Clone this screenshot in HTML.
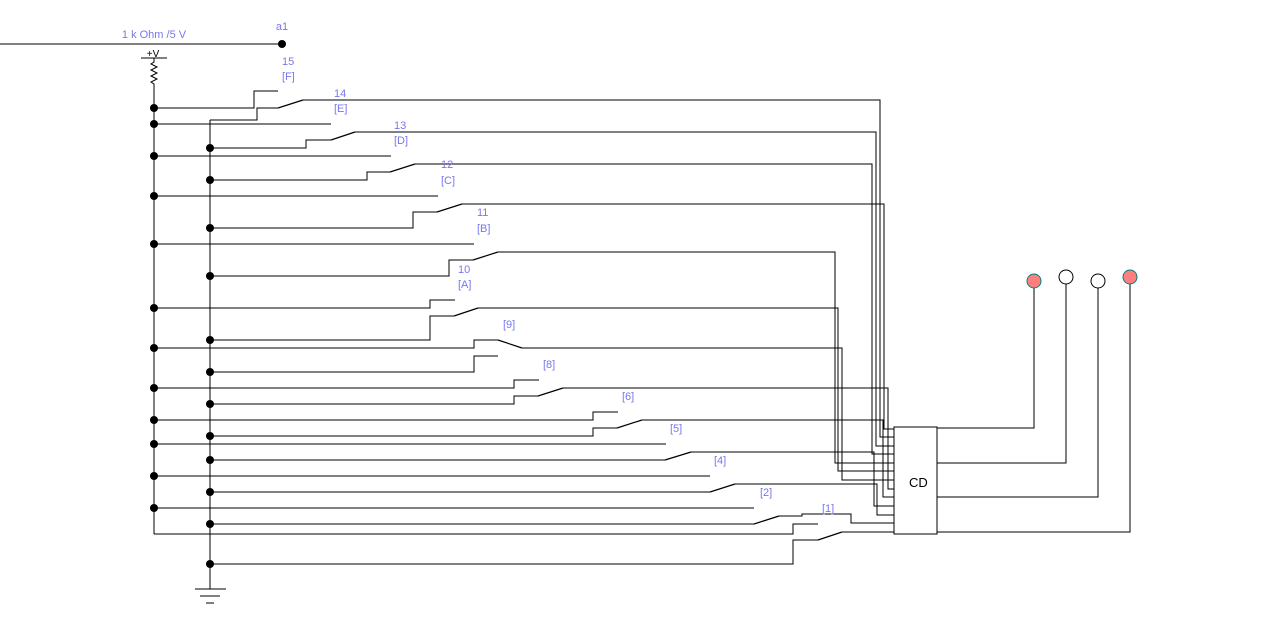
<!DOCTYPE html>
<html><head><meta charset="utf-8"><style>
html,body{margin:0;padding:0;background:#fff;}
svg{display:block;}
text{font-family:"Liberation Sans",sans-serif;font-size:11px;fill:#7777ee;}
</style></head><body>
<svg width="1268" height="624" viewBox="0 0 1268 624" xmlns="http://www.w3.org/2000/svg">
<g fill="none" stroke="#000" stroke-width="1.2" shape-rendering="crispEdges">
<!-- top -->
<line x1="0" y1="44" x2="282" y2="44"/>
<line x1="141" y1="58" x2="167" y2="58"/>
<polyline points="154,58 154,62 151,64 157,67 151,70 157,73 151,76 157,79 151,82 154,84 154,534" shape-rendering="auto" stroke-width="1"/>
<line x1="210" y1="120" x2="210" y2="589"/>
<!-- ground -->
<line x1="195" y1="589" x2="226" y2="589"/>
<line x1="200" y1="596" x2="220" y2="596"/>
<line x1="206" y1="603" x2="214" y2="603"/>
<!-- row 15 -->
<polyline points="154,108 254,108 254,91 278,91"/>
<polyline points="210,120 257,120 257,108 278,108"/>
<line x1="278" y1="108" x2="303" y2="100" shape-rendering="auto"/>
<polyline points="303,100 880,100 880,437 894,437"/>
<!-- row 14 -->
<polyline points="154,124 331,124"/>
<polyline points="210,148 306,148 306,140 331,140"/>
<line x1="331" y1="140" x2="355" y2="132" shape-rendering="auto"/>
<polyline points="355,132 876,132 876,446 894,446"/>
<!-- row 13 -->
<polyline points="154,156 391,156"/>
<polyline points="210,180 367,180 367,172 390,172"/>
<line x1="390" y1="172" x2="415" y2="164" shape-rendering="auto"/>
<polyline points="415,164 872,164 872,454 894,454"/>
<!-- row 12 -->
<polyline points="154,196 438,196"/>
<polyline points="210,228 413,228 413,212 437,212"/>
<line x1="437" y1="212" x2="462" y2="204" shape-rendering="auto"/>
<polyline points="462,204 884,204 884,429 894,429"/>
<!-- row 11 -->
<polyline points="154,244 474,244"/>
<polyline points="210,276 449,276 449,260 473,260"/>
<line x1="473" y1="260" x2="498" y2="252" shape-rendering="auto"/>
<polyline points="498,252 835,252 835,463 894,463"/>
<!-- row 10 -->
<polyline points="154,308 430,308 430,300 455,300"/>
<polyline points="210,340 430,340 430,316 454,316"/>
<line x1="454" y1="316" x2="478" y2="308" shape-rendering="auto"/>
<polyline points="478,308 838,308 838,471 894,471"/>
<!-- row 9 -->
<polyline points="154,348 474,348 474,340 498,340"/>
<polyline points="210,372 474,372 474,356 498,356"/>
<line x1="498" y1="340" x2="522" y2="348" shape-rendering="auto"/>
<polyline points="522,348 842,348 842,480 894,480"/>
<!-- row 8 -->
<polyline points="154,388 514,388 514,380 539,380"/>
<polyline points="210,404 514,404 514,396 538,396"/>
<line x1="538" y1="396" x2="563" y2="388" shape-rendering="auto"/>
<polyline points="563,388 888,388 888,489 894,489"/>
<!-- row 6 -->
<polyline points="154,420 593,420 593,412 618,412"/>
<polyline points="210,436 593,436 593,428 617,428"/>
<line x1="617" y1="428" x2="642" y2="420" shape-rendering="auto"/>
<polyline points="642,420 883,420 883,497 894,497"/>
<!-- row 4 -->
<polyline points="154,444 666,444"/>
<polyline points="210,460 665,460"/>
<line x1="665" y1="460" x2="691" y2="452" shape-rendering="auto"/>
<polyline points="691,452 874,452 874,506 894,506"/>
<!-- row 2 -->
<polyline points="154,476 710,476"/>
<polyline points="210,492 710,492"/>
<line x1="710" y1="492" x2="735" y2="484" shape-rendering="auto"/>
<polyline points="735,484 877,484 877,515 894,515"/>
<!-- row 1 -->
<polyline points="154,508 754,508"/>
<polyline points="210,524 754,524"/>
<line x1="754" y1="524" x2="779" y2="516" shape-rendering="auto"/>
<polyline points="779,516 802,516 802,514 851,514 851,523 894,523"/>
<!-- bottom -->
<polyline points="154,534 793,534 793,524 818,524"/>
<polyline points="210,564 793,564 793,540 818,540"/>
<line x1="818" y1="540" x2="842" y2="532" shape-rendering="auto"/>
<polyline points="842,532 894,532"/>
<!-- CD -->
<rect x="894" y="427" width="43" height="107"/>
<polyline points="937,428 1034,428 1034,288"/>
<polyline points="937,463 1066,463 1066,284"/>
<polyline points="937,497 1098,497 1098,288"/>
<polyline points="937,532 1130,532 1130,284"/>
</g>
<g fill="#000">
<circle cx="282" cy="44" r="4"/>
<circle cx="154" cy="108" r="4"/><circle cx="154" cy="124" r="4"/><circle cx="154" cy="156" r="4"/>
<circle cx="154" cy="196" r="4"/><circle cx="154" cy="244" r="4"/><circle cx="154" cy="308" r="4"/>
<circle cx="154" cy="348" r="4"/><circle cx="154" cy="388" r="4"/><circle cx="154" cy="420" r="4"/>
<circle cx="154" cy="444" r="4"/><circle cx="154" cy="476" r="4"/><circle cx="154" cy="508" r="4"/>
<circle cx="210" cy="148" r="4"/><circle cx="210" cy="180" r="4"/><circle cx="210" cy="228" r="4"/>
<circle cx="210" cy="276" r="4"/><circle cx="210" cy="340" r="4"/><circle cx="210" cy="372" r="4"/>
<circle cx="210" cy="404" r="4"/><circle cx="210" cy="436" r="4"/><circle cx="210" cy="460" r="4"/>
<circle cx="210" cy="492" r="4"/><circle cx="210" cy="524" r="4"/><circle cx="210" cy="564" r="4"/>
</g>
<g stroke="#008080" stroke-width="1">
<circle cx="1034" cy="281" r="7" fill="#ff7f7f"/>
<circle cx="1066" cy="277" r="7" fill="#fff" stroke="#000"/>
<circle cx="1098" cy="281" r="7" fill="#fff" stroke="#000"/>
<circle cx="1130" cy="277" r="7" fill="#ff7f7f"/>
</g>
<text x="154" y="38" text-anchor="middle">1 k Ohm /5 V</text>
<text x="282" y="30" text-anchor="middle">a1</text>
<text x="153" y="57" text-anchor="middle" style="fill:#000;font-size:10px">+V</text>
<text x="909" y="487" style="fill:#000;font-size:13px">CD</text>
<text x="282" y="65">15</text><text x="282" y="80">[F]</text>
<text x="334" y="97">14</text><text x="334" y="112">[E]</text>
<text x="394" y="129">13</text><text x="394" y="144">[D]</text>
<text x="441" y="168">12</text><text x="441" y="184">[C]</text>
<text x="477" y="216">11</text><text x="477" y="232">[B]</text>
<text x="458" y="273">10</text><text x="458" y="288">[A]</text>
<text x="503" y="328">[9]</text>
<text x="543" y="368">[8]</text>
<text x="622" y="400">[6]</text>
<text x="670" y="432">[5]</text>
<text x="714" y="464">[4]</text>
<text x="760" y="496">[2]</text>
<text x="822" y="512">[1]</text>
</svg>
</body></html>
